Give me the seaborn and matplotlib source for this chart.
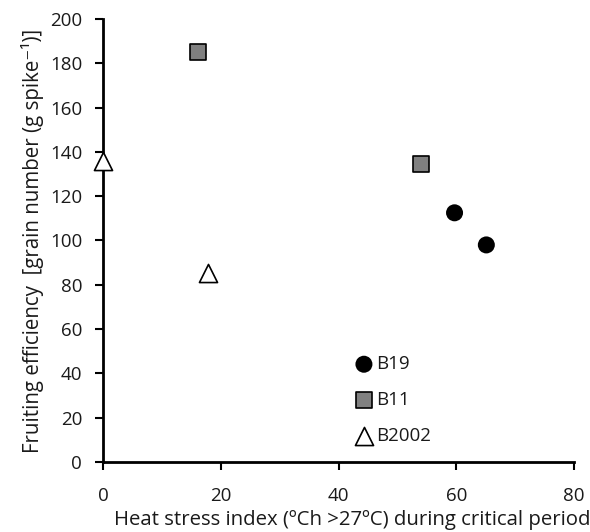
import matplotlib
matplotlib.use("Agg")
import matplotlib.pyplot as plt
import seaborn as sns
import pandas as pd

# Data
b19_x = [59.7, 65.1]
b19_y = [112.5, 98.0]
b11_x = [16.1, 54.0]
b11_y = [185.0, 134.5]
b2002_x = [0.0, 17.8]
b2002_y = [136.0, 85.5]
series = ["B19", "B11", "B2002"]

df = pd.DataFrame({
    "x": b19_x + b11_x + b2002_x,
    "y": b19_y + b11_y + b2002_y,
    "g": ["B19"] * 2 + ["B11"] * 2 + ["B2002"] * 2,
})

sns.set_style("white")
plt.rcParams["font.family"] = ["Open Sans", "DejaVu Sans"]

fig = plt.figure(figsize=(5.9, 5.32), dpi=100)
ax = fig.add_axes([0.1746, 0.1316, 0.7984, 0.8327])

palette = {"B19": "black", "B11": "#808080", "B2002": "white"}
markers = {"B19": "o", "B11": "s", "B2002": "^"}
sizes_map = {"B19": 150, "B11": 140, "B2002": 170}

for name in series:
    sub = df[df["g"] == name]
    sns.scatterplot(data=sub, x="x", y="y", ax=ax, color=palette[name],
                    marker=markers[name], s=sizes_map[name],
                    edgecolor="black" if name != "B19" else "none",
                    linewidth=1.2, label=name, zorder=3, clip_on=False)

ax.set_xlim(0, 80)
ax.set_ylim(0, 200)
ax.set_xticks([0, 20, 40, 60, 80])
ax.set_yticks(range(0, 201, 20))
for s in ["top", "right"]:
    ax.spines[s].set_visible(False)
for s in ["left", "bottom"]:
    ax.spines[s].set_color("black")
    ax.spines[s].set_linewidth(2)
ax.tick_params(axis="both", direction="out", length=6, width=1.5,
               color="black", labelsize=13.5, labelcolor="#1a1a1a",
               bottom=True, left=True)
ax.tick_params(axis="x", pad=12)
ax.tick_params(axis="y", pad=9)
ax.set_xlabel("Heat stress index (ºCh >27ºC) during critical period",
              fontsize=14.7, color="#1a1a1a")
ax.xaxis.set_label_coords(0.529, -0.108)
ax.set_ylabel("Fruiting efficiency  [grain number (g spike⁻¹)]",
              fontsize=14.8, color="#1a1a1a", labelpad=4)

leg = ax.legend(loc="center left", bbox_to_anchor=(0.534, 0.140), frameon=False,
                fontsize=13.5, handletextpad=0.15, labelspacing=0.95,
                borderaxespad=0, borderpad=0, handlelength=1.0)
for t in leg.get_texts():
    t.set_color("#1a1a1a")

fig.savefig("out.png", dpi=100)
